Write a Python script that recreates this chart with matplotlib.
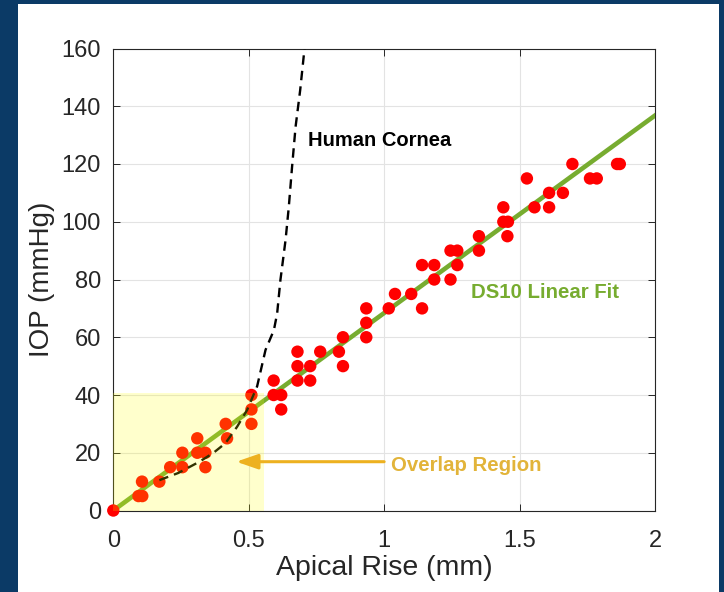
import numpy as np
import matplotlib
matplotlib.use("Agg")
import matplotlib.pyplot as plt
from matplotlib.patches import Rectangle

plt.rcParams['font.family'] = ['Liberation Sans', 'DejaVu Sans']

# DS10 measurements (apical rise mm, IOP mmHg)
rise = [0, 0.093, 0.107, 0.106, 0.17, 0.21, 0.255, 0.255, 0.31, 0.31, 0.34, 0.34,
        0.415, 0.42, 0.51, 0.51, 0.51, 0.592, 0.592, 0.62, 0.62,
        0.68, 0.68, 0.68, 0.727, 0.727, 0.764, 0.833, 0.848, 0.848,
        0.934, 0.934, 0.934, 1.017, 1.04, 1.10, 1.14, 1.14, 1.185, 1.185,
        1.245, 1.245, 1.27, 1.27, 1.35, 1.35, 1.44, 1.44, 1.457, 1.455,
        1.527, 1.555, 1.609, 1.609, 1.66, 1.695, 1.76, 1.785, 1.86, 1.87]
iop = [0, 5, 5, 10, 10, 15, 20, 15, 25, 20, 20, 15,
       30, 25, 40, 35, 30, 45, 40, 40, 35,
       55, 50, 45, 50, 45, 55, 55, 50, 60,
       70, 65, 60, 70, 75, 75, 70, 85, 85, 80,
       80, 90, 90, 85, 95, 90, 105, 100, 100, 95,
       115, 105, 110, 105, 110, 120, 115, 115, 120, 120]

# linear fit
fit_slope = 68.4
fit_intercept = 0.0
fit_x = [0, 2]

# human cornea curve
cornea_x = [0.17, 0.24, 0.32, 0.37, 0.414, 0.457, 0.494, 0.531, 0.562, 0.593,
            0.605, 0.617, 0.636, 0.648, 0.66, 0.673, 0.69, 0.706]
cornea_y = [10.5, 13, 17, 20, 23.3, 29, 34.8, 43, 55.6, 62.5,
            68.3, 79.8, 93.7, 105.2, 119, 132.9, 145.6, 160]

overlap_x = 0.555
overlap_y = 40.7

xticks = [0, 0.5, 1, 1.5, 2]
xticklabels = ["0", "0.5", "1", "1.5", "2"]
yticks = list(range(0, 161, 20))

navy = "#0b3a66"
fig = plt.figure(figsize=(7.24, 5.92), dpi=100, facecolor=navy)
bg = Rectangle((18 / 724, 0), 701 / 724, 588 / 592,
               transform=fig.transFigure, facecolor="white",
               edgecolor="none", zorder=-10)
fig.add_artist(bg)
ax = fig.add_axes([113.3 / 724, 81.5 / 592, 541.7 / 724, 462 / 592])

ax.grid(True, color="#e3e3e3", linewidth=0.8, zorder=0)
ax.set_axisbelow(True)

fx = np.array(fit_x)
ax.plot(fx, fit_slope * fx + fit_intercept, color="#77AC30", linewidth=3.3, zorder=3)
ax.scatter(rise, iop, s=80, color="red", edgecolors="none", zorder=4, clip_on=False)
ax.plot(cornea_x, cornea_y, color="black", linewidth=1.7, linestyle=(0, (4, 2.6)), zorder=5)

ax.add_patch(Rectangle((0, 0), overlap_x, overlap_y, facecolor="yellow",
                       alpha=0.2, edgecolor="none", zorder=6))

ax.annotate("", xy=(0.454, 16.9), xytext=(1.0, 16.9),
            arrowprops=dict(arrowstyle="-|>,head_length=1.3,head_width=0.45",
                            color="#EDB120", linewidth=2.2, shrinkA=0, shrinkB=0),
            zorder=7)
ax.text(1.025, 13.8, "Overlap Region", color="#E2B43A", fontsize=14.7,
        fontweight="bold", va="baseline", ha="left", zorder=7)
ax.text(1.322, 73.5, "DS10 Linear Fit", color="#77AC30", fontsize=14.7,
        fontweight="bold", va="baseline", ha="left", zorder=7)
ax.text(0.72, 126.2, "Human Cornea", color="black", fontsize=14.5,
        fontweight="bold", va="baseline", ha="left", zorder=7)

ax.set_xlim(0, 2)
ax.set_ylim(0, 160)
ax.set_xticks(xticks)
ax.set_xticklabels(xticklabels)
ax.set_yticks(yticks)
ax.tick_params(direction="in", top=True, right=True, length=5, width=0.7,
               colors="#262626", labelsize=17, labelcolor="#262626")
ax.tick_params(axis="x", pad=14)
ax.tick_params(axis="y", pad=9)
for s in ax.spines.values():
    s.set_color("#262626")
    s.set_linewidth(0.8)

ax.set_xlabel("Apical Rise (mm)", fontsize=20.5, color="#262626", va="center")
ax.set_ylabel("IOP (mmHg)", fontsize=20, color="#262626", va="center")
ax.xaxis.set_label_coords(0.5, (510.5 - 568) / 462)
ax.yaxis.set_label_coords((42 - 113.3) / 541.7, 0.5)

fig.savefig("out.png", dpi=100, facecolor=navy)
